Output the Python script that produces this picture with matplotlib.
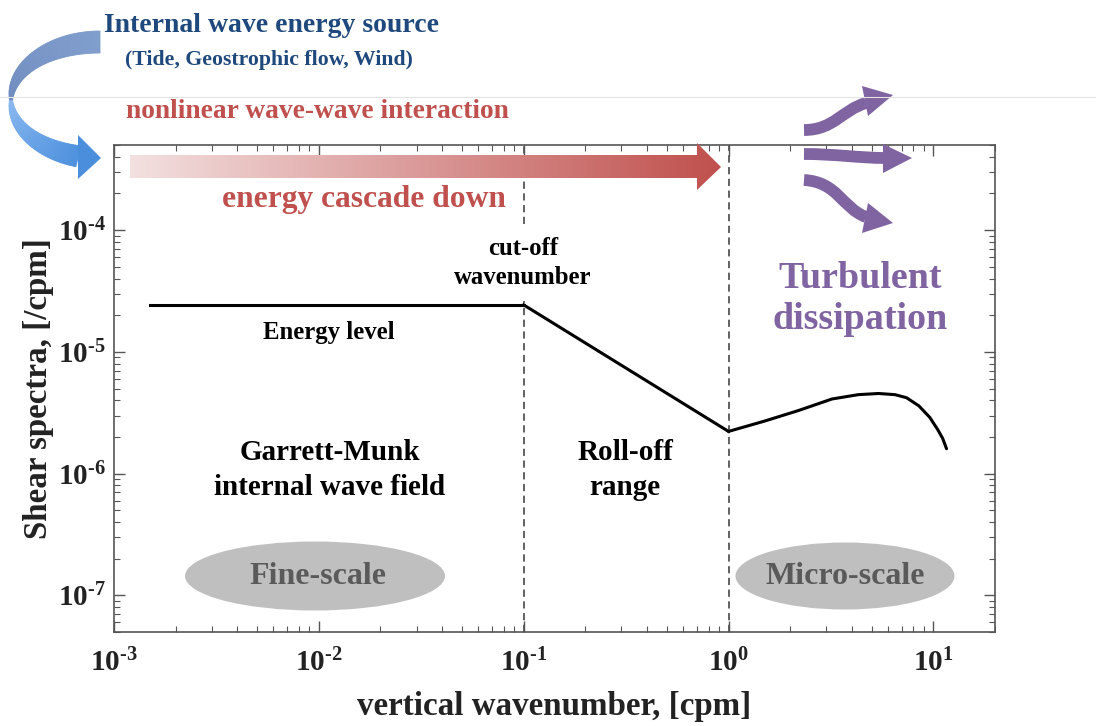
import numpy as np
import matplotlib
matplotlib.use("Agg")
import matplotlib.pyplot as plt
from matplotlib.patches import Polygon, Ellipse, PathPatch
from matplotlib.path import Path
from matplotlib.ticker import FuncFormatter, LogLocator

plt.rcParams["font.family"] = ["Liberation Serif", "DejaVu Serif"]
plt.rcParams["font.weight"] = "bold"
plt.rcParams["mathtext.fontset"] = "custom"
plt.rcParams["mathtext.rm"] = "Liberation Serif:bold"
plt.rcParams["mathtext.bf"] = "Liberation Serif:bold"
plt.rcParams["mathtext.it"] = "Liberation Serif:bold:italic"

# spectrum: flat GM level, k^-1 roll-off, then turbulence bump
gm_k = [1.5e-3, 0.1]
gm_s = [2.43e-5, 2.43e-5]
roll_k = [0.1, 1.0]
roll_s = [2.43e-5, 2.22e-6]
turb_k = [1.0, 1.5, 2.2, 3.2, 4.3, 5.4, 6.5, 7.4, 8.5, 9.6, 10.5, 11.1, 11.6]
turb_s = [2.22e-6, 2.7e-6, 3.3e-6, 4.1e-6, 4.45e-6, 4.55e-6, 4.45e-6, 4.2e-6,
          3.6e-6, 2.9e-6, 2.3e-6, 1.95e-6, 1.6e-6]
cutoff_k = [0.1, 1.0]

BLUE_TXT = "#1F497D"
RED = "#C0504D"
PURPLE = "#8064A2"

W, H = 1096, 726
fig = plt.figure(figsize=(W / 100, H / 100), dpi=100)
ax = fig.add_axes([114 / W, 1 - 632 / H, 881 / W, 487 / H])

ax.plot(gm_k, gm_s, color="black", lw=2.2, zorder=5)
ax.plot(roll_k, roll_s, color="black", lw=2.2, zorder=5)
ax.plot(turb_k, turb_s, color="black", lw=2.2, zorder=5, solid_capstyle="round")

# cut-off wavenumber (broken around its label) and the micro-scale limit
dash = (0, (4, 2.5))
ax.vlines(cutoff_k[0], 5e-8, 2.6e-5, colors="#555555", linestyles=dash, lw=1.3)
ax.vlines(cutoff_k[0], 1.12e-4, 5e-4, colors="#555555", linestyles=dash, lw=1.3)
ax.vlines(cutoff_k[1], 5e-8, 5e-4, colors="#555555", linestyles=dash, lw=1.3)

ax.set_xscale("log")
ax.set_yscale("log")
ax.set_xlim(1e-3, 20)
ax.set_ylim(5e-8, 5e-4)
ax.xaxis.set_major_locator(LogLocator(base=10, numticks=10))
ax.yaxis.set_major_locator(LogLocator(base=10, numticks=10))
fmt = FuncFormatter(lambda v, p: r"$\mathbf{10}^{\text{%d}}$" % int(round(np.log10(v))))
ax.xaxis.set_major_formatter(fmt)
ax.yaxis.set_major_formatter(fmt)
ax.tick_params(which="both", direction="in", top=True, right=True, color="#555555")
ax.tick_params(which="major", length=8, width=1, labelsize=21)
ax.tick_params(axis="x", which="major", pad=12)
ax.tick_params(axis="y", which="major", pad=6)
ax.tick_params(which="minor", length=4.5, width=0.8)
for s in ax.spines.values():
    s.set_color("#555555")
    s.set_linewidth(1.2)
ax.set_xlabel("vertical wavenumber, [cpm]", fontsize=23.8, fontweight="bold",
              color="#222222", labelpad=10)
ax.set_ylabel("Shear spectra, [/cpm]", fontsize=23.8, fontweight="bold",
              color="#222222", labelpad=3)
for lab in ax.get_xticklabels() + ax.get_yticklabels():
    lab.set_color("#222222")

# overlay in pixel coordinates for the schematic decorations
ov = fig.add_axes([0, 0, 1, 1], zorder=10)
ov.set_xlim(0, W)
ov.set_ylim(H, 0)
ov.axis("off")
ov.patch.set_alpha(0)

ov.plot([0, W], [97, 97], color="#E3E3E3", lw=0.8)

# red gradient arrow (energy cascade)
arrow_pts = [(130, 155), (697, 155), (697, 143), (721, 167), (697, 190), (697, 178), (130, 178)]
arrow = Polygon(arrow_pts, closed=True, facecolor="none", edgecolor="none")
ov.add_patch(arrow)
c0 = np.array([243, 224, 224]) / 255
c1 = np.array([192, 80, 77]) / 255
t = np.linspace(0, 1, 256)
grad = (c0[None, :] * (1 - t[:, None]) + c1[None, :] * t[:, None])[None, :, :]
im = ov.imshow(grad, extent=(130, 721, 190, 143), aspect="auto", zorder=3)
im.set_clip_path(arrow)

# blue curved ribbon arrow (energy source)
cx, cy, rx, ry = 100, 100, 89, 58
th = np.radians(np.linspace(90, 256, 120))
def ribbon_w(a):
    return 3 + 19 * np.abs(np.sin(a))
for i in range(len(th) - 1):
    a0, a1 = th[i], th[i + 1]
    p = []
    for a, sgn in ((a0, 1), (a1, 1), (a1, -1), (a0, -1)):
        half = sgn * ribbon_w(a) / 2
        p.append((cx + (rx + half) * np.cos(a), cy - (ry + half) * np.sin(a)))
    f = (np.degrees(a0) - 90) / 166
    if f < 0.54:
        g = f / 0.54
        col = np.array([128, 158, 205]) * (1 - g) + np.array([112, 140, 192]) * g
    else:
        g = (f - 0.54) / 0.46
        col = np.array([140, 186, 240]) * (1 - g) + np.array([78, 145, 222]) * g
    ov.add_patch(Polygon(p, closed=True, facecolor=col / 255, edgecolor=col / 255, lw=0.6))
ov.add_patch(Polygon([(78, 135), (101, 158), (78, 179)], closed=True,
                     facecolor="#4A8EDC", edgecolor="none"))

# purple dissipation arrows
bodies = [
    [(804, 130), (834, 130), (842, 110), (866, 103)],
    [(804, 154), (835, 154), (860, 158), (885, 158)],
    [(804, 180), (838, 182), (842, 208), (866, 217)],
]
heads = [
    [(862, 86), (893, 95), (868, 116)],
    [(883, 144), (912, 158), (883, 173)],
    [(868, 203), (893, 223), (862, 233)],
]
for b, hd in zip(bodies, heads):
    path = Path(b, [Path.MOVETO, Path.CURVE4, Path.CURVE4, Path.CURVE4])
    ov.add_patch(PathPatch(path, fill=False, edgecolor=PURPLE, lw=8.5, capstyle="butt"))
    ov.add_patch(Polygon(hd, closed=True, facecolor=PURPLE, edgecolor="none"))

# scale ellipses
ov.add_patch(Ellipse((315, 576), 260, 69, facecolor="#BFBFBF", edgecolor="none"))
ov.add_patch(Ellipse((845, 576), 219, 67, facecolor="#BFBFBF", edgecolor="none"))
ov.text(318, 577, "Fine-scale", fontsize=23, color="#5A5A5A", ha="center", va="center")
ov.text(845, 577, "Micro-scale", fontsize=23, color="#5A5A5A", ha="center", va="center")

# annotations
ov.text(104, 25, "Internal wave energy source", fontsize=20, color=BLUE_TXT, va="center")
ov.text(125, 60, "(Tide, Geostrophic flow, Wind)", fontsize=15.7, color=BLUE_TXT, va="center")
ov.text(126, 111, "nonlinear wave-wave interaction", fontsize=19.8, color=RED, va="center")
ov.text(364, 200, "energy cascade down", fontsize=22.7, color=RED, ha="center", va="center")
ov.text(523, 263, "cut-off\nwavenumber", fontsize=17.8, color="black", ha="center", va="center",
        linespacing=1.3)
ov.text(329, 333, "Energy level", fontsize=17.8, color="black", ha="center", va="center")
ov.text(330, 470, "Garrett-Munk\ninternal wave field", fontsize=21, color="black",
        ha="center", va="center", linespacing=1.35)
ov.text(625, 470, "Roll-off\nrange", fontsize=21, color="black", ha="center", va="center",
        linespacing=1.35)
ov.text(860, 299, "Turbulent\ndissipation", fontsize=27.4, color=PURPLE, ha="center", va="center",
        linespacing=1.25)

fig.savefig("out.png", dpi=100)
